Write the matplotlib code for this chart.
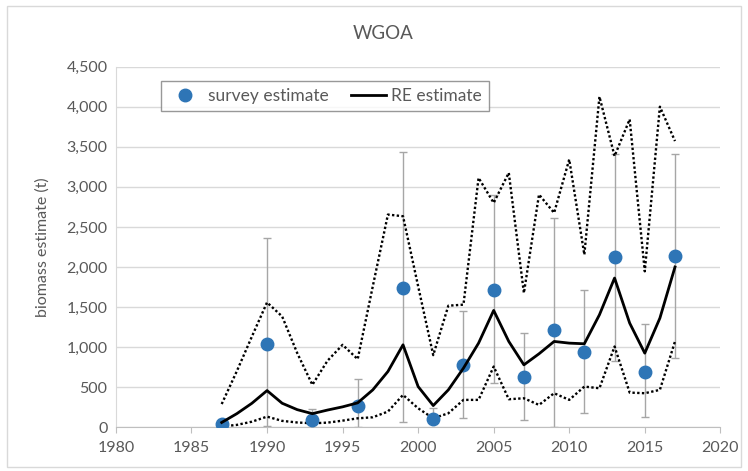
import numpy as np
import matplotlib.pyplot as plt
from matplotlib.patches import Rectangle

# RE model estimate, yearly, with upper / lower bounds
re_years = list(range(1987, 2018))
re_est = [60, 170, 300, 458, 300, 220, 170, 215, 255, 305, 467, 696, 1029, 508, 271,
          467, 738, 1050, 1458, 1071, 779, 917, 1071, 1050, 1042, 1404, 1862, 1300, 925,
          1362, 2000]
re_upper = [290, 700, 1133, 1558, 1383, 925, 530, 830, 1029, 850, 1760, 2654, 2633, 1760, 900,
            1517, 1530, 3112, 2800, 3175, 1675, 2904, 2675, 3342, 2154, 4125, 3383, 3842, 1946,
            4000, 3571]
re_lower = [10, 30, 70, 133, 80, 60, 50, 58, 83, 112, 125, 196, 404, 237, 112,
            175, 342, 342, 758, 350, 362, 279, 425, 342, 508, 487, 1008, 433, 425,
            467, 1071]

# survey estimates with error bar limits
sv_years = [1987, 1990, 1993, 1996, 1999, 2001, 2003, 2005, 2007, 2009, 2011, 2013, 2015, 2017]
sv_est = [40, 1042, 95, 267, 1737, 100, 779, 1717, 625, 1217, 937, 2125, 696, 2133]
sv_hi = [60, 2362, 225, 600, 3433, 237, 1446, 2904, 1175, 2612, 1717, 3404, 1292, 3412]
sv_lo = [20, 20, 40, 0, 71, 50, 121, 550, 92, 0, 175, 821, 133, 862]

plt.rcParams['font.family'] = ['Lato', 'DejaVu Sans']
grey = '#595959'

fig = plt.figure(figsize=(7.48, 4.71), dpi=100)
ax = fig.add_axes([0.155, 0.0928, 0.808, 0.7658])

sv_est_a = np.array(sv_est)
yerr = [sv_est_a - np.array(sv_lo), np.array(sv_hi) - sv_est_a]
ax.errorbar(sv_years, sv_est, yerr=yerr, fmt='none', ecolor='#a6a6a6',
            elinewidth=1.0, capsize=3, capthick=1.0, zorder=2)
ax.plot(re_years, re_upper, color='black', lw=1.7, linestyle=(0, (1, 1)), zorder=3)
ax.plot(re_years, re_lower, color='black', lw=1.7, linestyle=(0, (1, 1)), zorder=3)
ax.plot(sv_years, sv_est, 'o', color='#2e75b6', ms=9, zorder=4, label='survey estimate')
ax.plot(re_years, re_est, color='black', lw=2.0, zorder=5, label='RE estimate')

ax.set_xlim(1980, 2020)
ax.set_ylim(0, 4500)
ax.set_xticks(range(1980, 2021, 5))
ax.set_yticks(range(0, 4501, 500))
ax.set_yticklabels([f'{v:,}' for v in range(0, 4501, 500)])
ax.grid(axis='y', color='#d9d9d9', lw=1)
ax.set_axisbelow(True)
for s in ['top', 'right']:
    ax.spines[s].set_visible(False)
ax.spines['left'].set_color('#d9d9d9')
ax.spines['bottom'].set_color('#bfbfbf')
ax.tick_params(axis='both', colors=grey, labelsize=11.5, length=0, pad=6)
ax.tick_params(axis='x', length=4, color='#bfbfbf', direction='out')
ax.set_ylabel('biomass estimate (t)', color=grey, fontsize=11.5, labelpad=12)

leg = ax.legend(loc='upper left', bbox_to_anchor=(0.06, 0.985), ncol=2, fontsize=12.5,
                frameon=True, fancybox=False, edgecolor='#7f7f7f', borderpad=0.4,
                handlelength=2.0, columnspacing=1.3, handletextpad=0.3)
leg.get_frame().set_linewidth(1.0)
for t in leg.get_texts():
    t.set_color(grey)

fig.text(0.512, 0.928, 'WGOA', ha='center', va='center', color=grey, fontsize=13.5)
fig.patches.append(Rectangle((0.009, 0.009), 0.982, 0.978, transform=fig.transFigure,
                             fill=False, edgecolor='#d9d9d9', lw=1))

fig.savefig('out.png', dpi=100)
